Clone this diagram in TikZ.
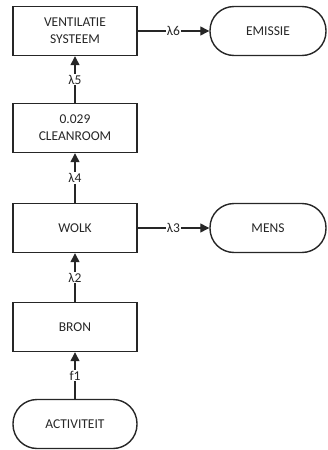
\documentclass[tikz,border=0pt]{standalone}
\usepackage{fontspec}
\setmainfont{Carlito}
\usetikzlibrary{arrows.meta}
\begin{document}
\begin{tikzpicture}[
    x=1pt,y=1pt,
    every node/.style={font=\fontsize{13.5}{17}\selectfont, text=black!85},
    box/.style={draw=black!85, line width=1.4pt, minimum width=124pt, minimum height=49pt, align=center, inner sep=0pt},
    term/.style={box, rounded corners=24pt},
    flow/.style={draw=black!85, line width=1.3pt, -{Triangle[length=9pt,width=9pt]}},
    lbl/.style={fill=white, inner sep=1pt}
]
    \useasboundingbox (0,0) rectangle (327,-450);

    \node[box] (vent) at (75,-31) {VENTILATIE\\SYSTEEM};
    \node[term, minimum width=116pt] (emissie) at (268,-31) {EMISSIE};
    \node[box] (clean) at (75,-128) {0.029\\CLEANROOM};
    \node[box] (wolk) at (75,-228) {WOLK};
    \node[term, minimum width=116pt] (mens) at (268,-228) {MENS};
    \node[box] (bron) at (75,-327) {BRON};
    \node[term] (act) at (75,-424) {ACTIVITEIT};

    \draw[flow] (act) -- node[lbl] {f1} (bron);
    \draw[flow] (bron) -- node[lbl] {λ2} (wolk);
    \draw[flow] (wolk) -- node[lbl] {λ3} (mens);
    \draw[flow] (wolk) -- node[lbl] {λ4} (clean);
    \draw[flow] (clean) -- node[lbl] {λ5} (vent);
    \draw[flow] (vent) -- node[lbl] {λ6} (emissie);
\end{tikzpicture}
\end{document}
